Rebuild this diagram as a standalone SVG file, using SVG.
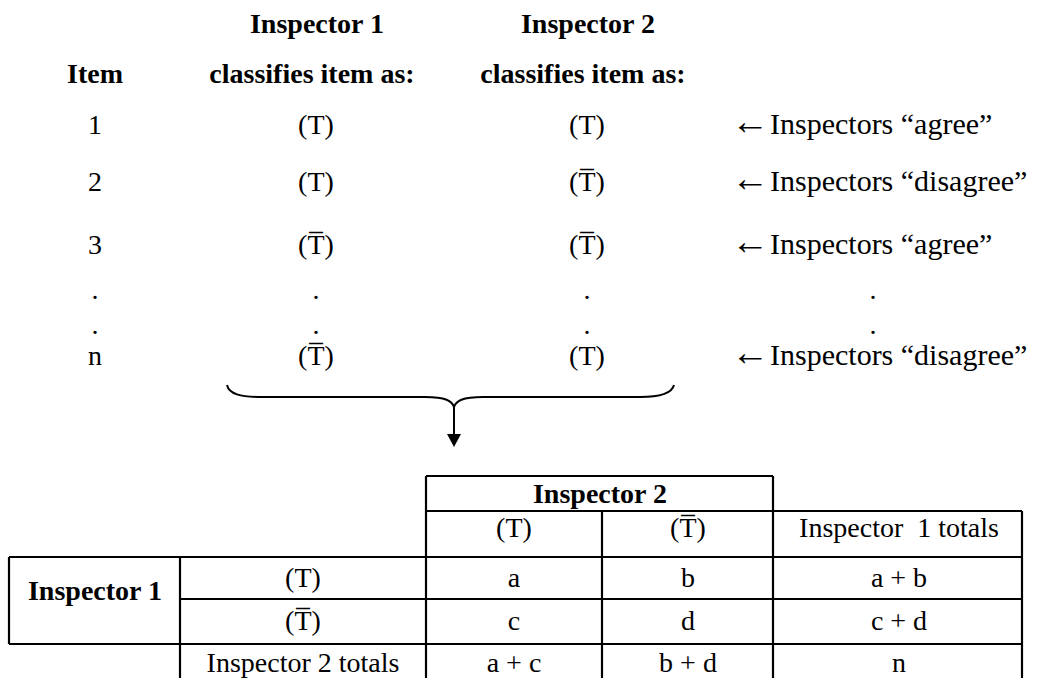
<svg xmlns="http://www.w3.org/2000/svg" width="1045" height="678" viewBox="0 0 1045 678">
<style>
text{font-family:"Liberation Serif","Times New Roman",serif;font-size:28px;fill:#000;text-anchor:middle}
.b{font-weight:bold}
.l{text-anchor:start;font-size:30px}
.arr{font-size:38px}
.grid line{stroke:#000;stroke-width:2.2}
</style>
<rect width="1045" height="678" fill="#fff"/>

<g id="header">
<text class="b" x="95" y="83">Item</text>
<text class="b" x="317" y="33">Inspector 1</text>
<text class="b" x="312" y="83">classifies item as:</text>
<text class="b" x="588" y="33">Inspector 2</text>
<text class="b" x="583" y="83">classifies item as:</text>
</g>

<g id="rows">
<text x="95" y="134">1</text>
<text x="316" y="134">(T)</text>
<text x="587" y="134">(T)</text>
<text class="l" x="731" y="134"><tspan class="arr">←</tspan><tspan x="770">Inspectors “agree”</tspan></text>

<text x="95" y="191">2</text>
<text x="316" y="191">(T)</text>
<text x="587" y="191">(T&#x305;)</text>
<text class="l" x="731" y="191"><tspan class="arr">←</tspan><tspan x="770">Inspectors “disagree”</tspan></text>

<text x="95" y="254">3</text>
<text x="316" y="254">(T&#x305;)</text>
<text x="587" y="254">(T&#x305;)</text>
<text class="l" x="731" y="254"><tspan class="arr">←</tspan><tspan x="770">Inspectors “agree”</tspan></text>

<text x="95" y="299">.</text>
<text x="316" y="299">.</text>
<text x="587" y="299">.</text>
<text x="873" y="299">.</text>
<text x="95" y="334">.</text>
<text x="316" y="334">.</text>
<text x="587" y="334">.</text>
<text x="873" y="334">.</text>

<text x="95" y="365">n</text>
<text x="316" y="365">(T&#x305;)</text>
<text x="587" y="365">(T)</text>
<text class="l" x="731" y="365"><tspan class="arr">←</tspan><tspan x="770">Inspectors “disagree”</tspan></text>
</g>

<g id="connectors">
<path d="M227,385 C229,394 240,397 262,397 L425,397 C446,397 452,401 454,407 C456,401 462,397 483,397 L640,397 C662,397 672,393 674,385" fill="none" stroke="#000" stroke-width="2"/>
<line x1="454" y1="407" x2="454" y2="436" stroke="#000" stroke-width="2"/>
<polygon points="447,434 461,434 454,447" fill="#000"/>
</g>

<g id="table">
<g class="grid">
<line x1="426" y1="476" x2="773" y2="476"/>
<line x1="426" y1="511" x2="1022" y2="511"/>
<line x1="9" y1="557" x2="1022" y2="557"/>
<line x1="180" y1="599" x2="1022" y2="599"/>
<line x1="9" y1="644" x2="1022" y2="644"/>
<line x1="9" y1="557" x2="9" y2="644"/>
<line x1="180" y1="557" x2="180" y2="680"/>
<line x1="426" y1="476" x2="426" y2="680"/>
<line x1="602" y1="511" x2="602" y2="680"/>
<line x1="773" y1="476" x2="773" y2="680"/>
<line x1="1022" y1="511" x2="1022" y2="680"/>
</g>
<text class="b" x="600" y="503">Inspector 2</text>
<text x="514" y="537">(T)</text>
<text x="688" y="537">(T&#x305;)</text>
<text x="899" y="537" xml:space="preserve">Inspector  1 totals</text>
<text class="b" x="95" y="600">Inspector 1</text>
<text x="303" y="587">(T)</text>
<text x="514" y="587">a</text>
<text x="688" y="587">b</text>
<text x="899" y="587">a + b</text>
<text x="303" y="630">(T&#x305;)</text>
<text x="514" y="630">c</text>
<text x="688" y="630">d</text>
<text x="899" y="630">c + d</text>
<text x="303" y="672">Inspector 2 totals</text>
<text x="514" y="672">a + c</text>
<text x="688" y="672">b + d</text>
<text x="899" y="672">n</text>
</g>
</svg>
